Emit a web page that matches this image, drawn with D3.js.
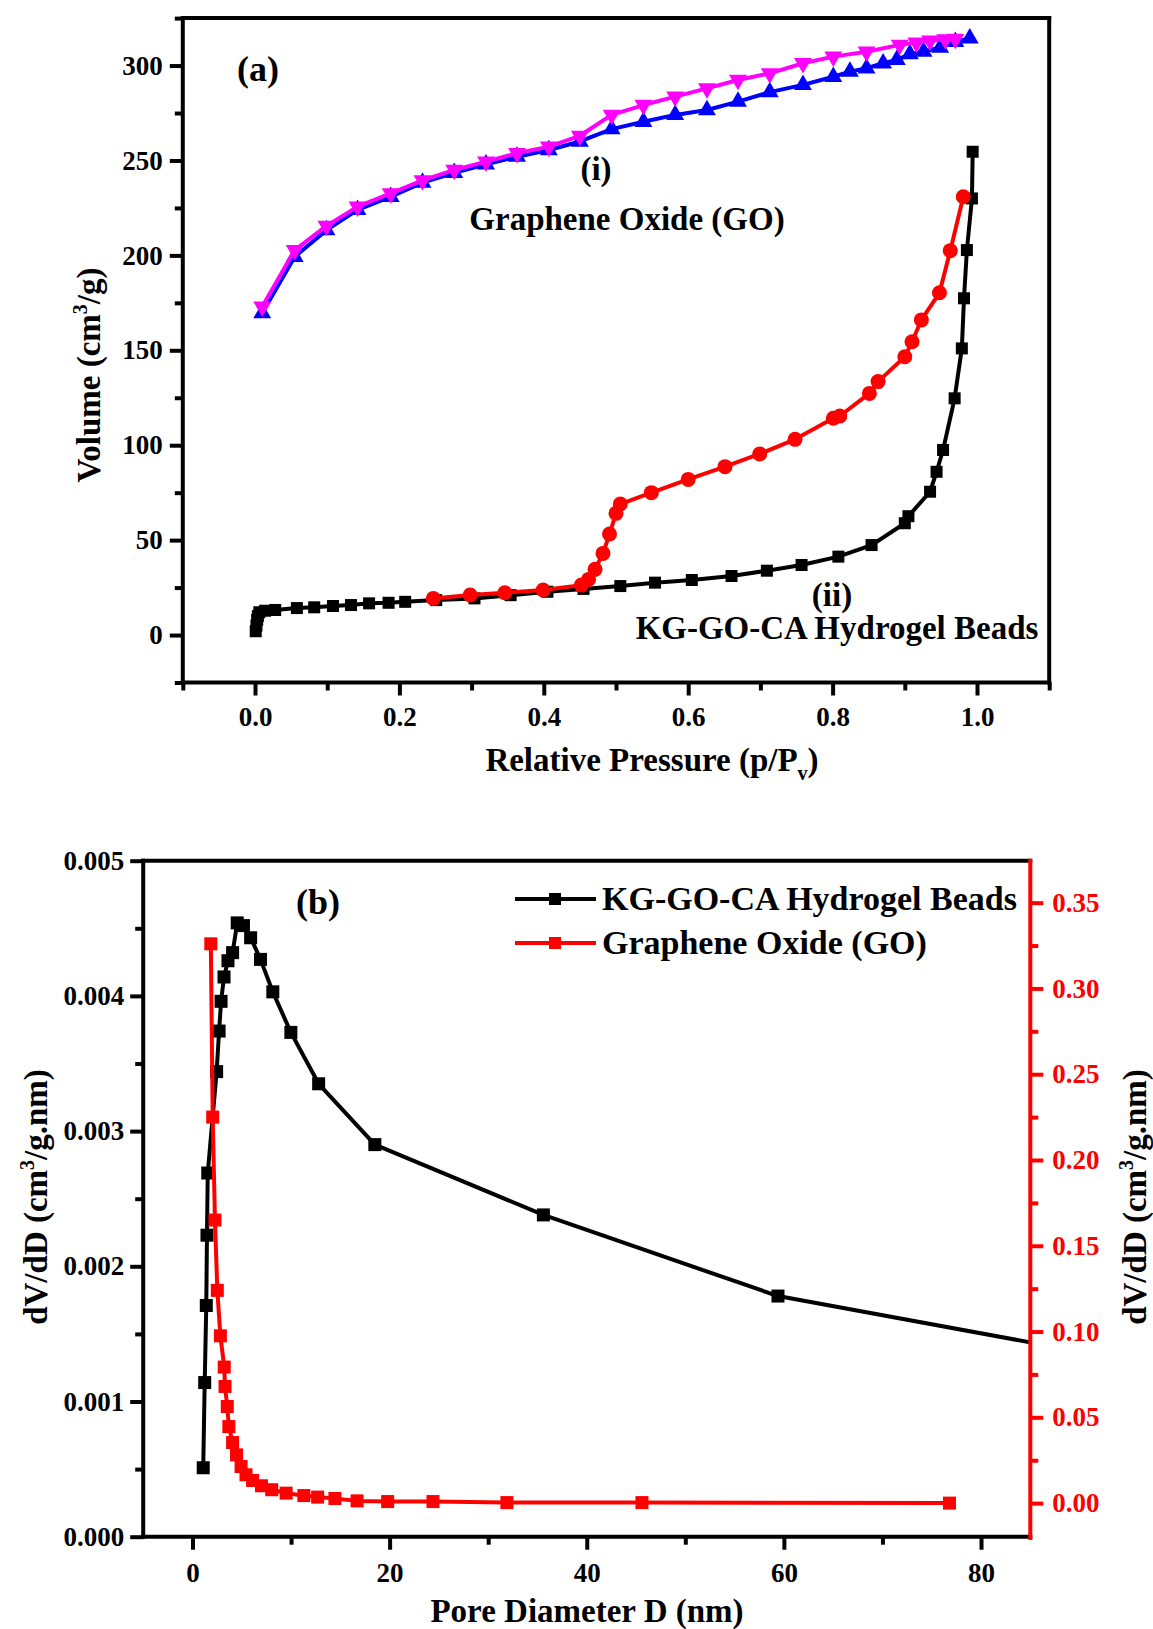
<!DOCTYPE html>
<html>
<head>
<meta charset="utf-8">
<script src="https://cdn.jsdelivr.net/npm/d3@7"></script>
<style>
    body{ margin: 0; background: #fff; }
    svg text{ font-family: 'Liberation Serif', 'Times New Roman', serif; font-weight: bold; }
</style>
</head>
<body>
<svg id="chart" width="1153" height="1629"></svg>
<script>

// (a) Graphene oxide isotherm, adsorption branch
var goAdsP = [0.010, 0.055, 0.099, 0.142, 0.188, 0.232, 0.276, 0.320, 0.363, 0.407, 0.450, 0.494, 0.538, 0.582,
    0.626, 0.669, 0.713, 0.759, 0.801, 0.824, 0.847, 0.870, 0.889, 0.907, 0.926, 0.949, 0.970, 0.990];
var goAdsV = [169.6, 199.3, 213.3, 224.0, 230.9, 238.3, 243.5, 248.0, 252.0, 255.5, 260.0, 266.5, 270.4, 274.0,
    276.6, 281.0, 286.0, 289.8, 294.1, 296.8, 298.6, 301.2, 303.0, 306.0, 307.3, 309.5, 312.5, 314.4];

// (a) Graphene oxide isotherm, desorption branch
var goDesP = [0.010, 0.055, 0.099, 0.142, 0.188, 0.232, 0.276, 0.320, 0.363, 0.407, 0.450, 0.494, 0.538, 0.582,
    0.626, 0.669, 0.713, 0.759, 0.801, 0.847, 0.893, 0.916, 0.935, 0.956, 0.970];
var goDesV = [173.0, 202.8, 215.5, 225.7, 232.7, 239.5, 245.0, 249.4, 253.8, 257.3, 263.0, 274.0, 279.2, 283.6,
    288.0, 292.4, 295.9, 301.2, 304.7, 307.3, 310.9, 312.1, 313.1, 313.8, 314.0];

// (a) KG-GO-CA beads isotherm, adsorption branch
var kgAdsP = [0.001, 0.002, 0.003, 0.004, 0.006, 0.014, 0.028, 0.058, 0.082, 0.108, 0.133, 0.158, 0.185, 0.208,
    0.251, 0.304, 0.354, 0.405, 0.455, 0.506, 0.554, 0.605, 0.660, 0.709, 0.757, 0.808, 0.854,
    0.900, 0.905, 0.935, 0.944, 0.953, 0.969, 0.979, 0.982, 0.986, 0.993, 0.994];
var kgAdsV = [2, 5, 8, 10, 12, 12.8, 13.2, 14.2, 14.6, 15.3, 15.8, 16.7, 17.0, 17.5,
    18.4, 19.3, 21.0, 22.8, 24.3, 25.8, 27.6, 29.0, 31.1, 33.9, 36.9, 41.3, 47.4,
    58.9, 62.6, 75.5, 86.0, 97.5, 124.7, 151.0, 177.4, 202.8, 230.0, 254.6];

// (a) KG-GO-CA beads isotherm, desorption branch
var kgDesP = [0.247, 0.298, 0.346, 0.399, 0.452, 0.462, 0.471, 0.482, 0.491, 0.500, 0.506, 0.549, 0.600, 0.651,
    0.699, 0.748, 0.801, 0.810, 0.851, 0.863, 0.900, 0.910, 0.923, 0.948, 0.963, 0.981];
var kgDesV = [19.3, 21.1, 22.3, 23.7, 26.3, 29.3, 34.6, 43.0, 53.2, 64.1, 69.0, 75.0, 82.0, 88.7,
    95.4, 103.1, 114.2, 115.4, 127.3, 133.5, 146.6, 154.5, 166.0, 180.3, 202.5, 230.9];

// (b) Pore size distribution, KG-GO-CA beads (left axis)
var kgPoreD = [1.09, 1.24, 1.40, 1.47, 1.55, 2.45, 2.70, 2.90, 3.20, 3.60, 4.07, 4.54, 5.17, 5.90, 6.90,
    8.15, 9.98, 12.8, 18.5, 35.6, 59.4, 96];
var kgPoreV = [0.00051, 0.00114, 0.00171, 0.00223, 0.00269, 0.00344, 0.00374, 0.00396, 0.00414, 0.00426,
    0.00432, 0.00454, 0.00452, 0.00443, 0.00427, 0.00403, 0.00373, 0.00335, 0.00290, 0.00238, 0.00178, 0.00129];

// (b) Pore size distribution, graphene oxide (right axis)
var goPoreD = [1.86, 2.05, 2.28, 2.52, 2.83, 3.22, 3.30, 3.53, 3.69, 4.07, 4.47, 4.93, 5.43, 6.10, 7.0,
    8.04, 9.5, 11.3, 12.7, 14.45, 16.7, 19.8, 24.4, 31.9, 45.6, 76.8];
var goPoreV = [0.326, 0.225, 0.165, 0.124, 0.0975, 0.0793, 0.068, 0.0563, 0.0446, 0.0353, 0.0281, 0.0213,
    0.0165, 0.0132, 0.0101, 0.0078, 0.0058, 0.0044, 0.0035, 0.0027, 0.0013, 0.0009, 0.0009, 0.0003, 0.0003, 0.0];

// Tick values
var aTicksX = [0, 0.2, 0.4, 0.6, 0.8, 1.0];
var aMinorX = [-0.1, 0.1, 0.3, 0.5, 0.7, 0.9, 1.1];
var aTicksY = [0, 50, 100, 150, 200, 250, 300];
var aMinorY = [-25, 25, 75, 125, 175, 225, 275, 325];
var bTicksX = [0, 20, 40, 60, 80];
var bMinorX = [10, 30, 50, 70];
var bTicksYL = [0, 0.001, 0.002, 0.003, 0.004, 0.005];
var bMinorYL = [0.0005, 0.0015, 0.0025, 0.0035, 0.0045];
var bTicksYR = [0, 0.05, 0.10, 0.15, 0.20, 0.25, 0.30, 0.35];
var bMinorYR = [0.025, 0.075, 0.125, 0.175, 0.225, 0.275, 0.325];

var svg = d3.select('#chart');
var RED = '#ff0000', BLUE = '#0000ff', MAGENTA = '#ff00ff';

function zip(xs, ys){
    return xs.map(function(x, i){ return {x: x, y: ys[i]}; });
}

// Draw an axis (major + minor ticks), no domain line
function drawAxis(axisFn, scale, ticks, minor, fmt, translate, pad, color){
    var g = svg.append('g').attr('transform', translate);
    g.append('g')
        .call(axisFn(scale).tickValues(minor).tickSize(8).tickFormat(''))
        .call(function(s){ s.select('.domain').remove(); });
    g.append('g')
        .call(axisFn(scale).tickValues(ticks).tickSize(13).tickPadding(pad).tickFormat(fmt))
        .call(function(s){ s.select('.domain').remove(); });
    g.selectAll('line').attr('stroke', color).attr('stroke-width', 4);
    g.selectAll('text')
        .attr('fill', color)
        .style('font-size', '27px')
        .style('font-family', "'Liberation Serif', 'Times New Roman', serif")
        .style('font-weight', 'bold');
    return g;
}

function frameLine(x1, y1, x2, y2, color){
    svg.append('line')
        .attr('x1', x1).attr('y1', y1).attr('x2', x2).attr('y2', y2)
        .attr('stroke', color).attr('stroke-width', 4).attr('stroke-linecap', 'square');
}

// Draw one data series: line + markers
function drawSeries(g, data, x, y, color, shape, size){
    var line = d3.line()
        .x(function(d){ return x(d.x); })
        .y(function(d){ return y(d.y); });
    g.append('path')
        .datum(data)
        .attr('fill', 'none')
        .attr('stroke', color)
        .attr('stroke-width', 4)
        .attr('stroke-linejoin', 'round')
        .attr('d', line);
    var m = g.append('g').attr('fill', color);
    if(shape == 'square'){
        m.selectAll('rect').data(data).enter().append('rect')
            .attr('x', function(d){ return x(d.x) - size/2; })
            .attr('y', function(d){ return y(d.y) - size/2; })
            .attr('width', size).attr('height', size);
    }
    else if(shape == 'circle'){
        m.selectAll('circle').data(data).enter().append('circle')
            .attr('cx', function(d){ return x(d.x); })
            .attr('cy', function(d){ return y(d.y); })
            .attr('r', size/2);
    }
    else{
        var sym = d3.symbol().type(d3.symbolTriangle).size(size*size*0.48);
        var rot = (shape == 'down') ? 180 : 0;
        m.selectAll('path').data(data).enter().append('path')
            .attr('d', sym)
            .attr('transform', function(d){
                return 'translate(' + x(d.x) + ',' + y(d.y) + ') rotate(' + rot + ')';
            });
    }
}

// ---------------- Panel (a) ----------------
var ax = d3.scaleLinear().domain([-0.1, 1.1]).range([182.8, 1049.2]);
var ay = d3.scaleLinear().domain([-25, 325]).range([682.5, 18.1]);

svg.append('clipPath').attr('id', 'clipA')
    .append('rect').attr('x', 182.8).attr('y', 18.1).attr('width', 1049.2 - 182.8).attr('height', 682.5 - 18.1);
var ga = svg.append('g').attr('clip-path', 'url(#clipA)');

drawSeries(ga, zip(goAdsP, goAdsV), ax, ay, BLUE, 'up', 17);
drawSeries(ga, zip(goDesP, goDesV), ax, ay, MAGENTA, 'down', 17);
drawSeries(ga, zip(kgAdsP, kgAdsV), ax, ay, '#000', 'square', 12);
drawSeries(ga, zip(kgDesP, kgDesV), ax, ay, RED, 'circle', 15);

drawAxis(d3.axisBottom, ax, aTicksX, aMinorX, d3.format('.1f'), 'translate(0,682.5)', 11, '#000');
drawAxis(d3.axisLeft, ay, aTicksY, aMinorY, d3.format('d'), 'translate(182.8,0)', 7, '#000');
frameLine(182.8, 18.1, 1049.2, 18.1, '#000');
frameLine(1049.2, 18.1, 1049.2, 682.5, '#000');
frameLine(182.8, 682.5, 1049.2, 682.5, '#000');
frameLine(182.8, 18.1, 182.8, 682.5, '#000');

// Axis titles (a)
var tx = svg.append('text').attr('x', 652).attr('y', 771).attr('text-anchor', 'middle').style('font-size', '33px');
tx.append('tspan').text('Relative Pressure (p/P');
tx.append('tspan').attr('dy', 9).style('font-size', '20px').text('v');
tx.append('tspan').attr('dy', -9).text(')');

var ty = svg.append('text').attr('transform', 'translate(100,375) rotate(-90)').attr('text-anchor', 'middle').style('font-size', '33px');
ty.append('tspan').text('Volume (cm');
ty.append('tspan').attr('dy', -13).style('font-size', '20px').text('3');
ty.append('tspan').attr('dy', 13).text('/g)');

// Annotations (a)
svg.append('text').attr('x', 237).attr('y', 81).style('font-size', '36px').text('(a)');
svg.append('text').attr('x', 596).attr('y', 180).attr('text-anchor', 'middle').style('font-size', '33px').text('(i)');
svg.append('text').attr('x', 627).attr('y', 230).attr('text-anchor', 'middle').style('font-size', '33px').text('Graphene Oxide (GO)');
svg.append('text').attr('x', 832).attr('y', 606).attr('text-anchor', 'middle').style('font-size', '33px').text('(ii)');
svg.append('text').attr('x', 837).attr('y', 639).attr('text-anchor', 'middle').style('font-size', '33px').text('KG-GO-CA Hydrogel Beads');

// ---------------- Panel (b) ----------------
var bx = d3.scaleLinear().domain([-5, 85]).range([143.2, 1030.3]);
var byL = d3.scaleLinear().domain([0, 0.005]).range([1536.7, 860.7]);
var byR = d3.scaleLinear().domain([-0.01958, 0.37445]).range([1536.7, 860.7]);

svg.append('clipPath').attr('id', 'clipB')
    .append('rect').attr('x', 143.2).attr('y', 860.7).attr('width', 1030.3 - 143.2).attr('height', 1536.7 - 860.7);
var gb = svg.append('g').attr('clip-path', 'url(#clipB)');

drawSeries(gb, zip(kgPoreD, kgPoreV), bx, byL, '#000', 'square', 13);
drawSeries(gb, zip(goPoreD, goPoreV), bx, byR, RED, 'square', 13);

drawAxis(d3.axisBottom, bx, bTicksX, bMinorX, d3.format('d'), 'translate(0,1536.7)', 13, '#000');
drawAxis(d3.axisLeft, byL, bTicksYL, bMinorYL, d3.format('.3f'), 'translate(143.2,0)', 6, '#000');
drawAxis(d3.axisRight, byR, bTicksYR, bMinorYR, d3.format('.2f'), 'translate(1030.3,0)', 9, RED);
frameLine(143.2, 860.7, 1030.3, 860.7, '#000');
frameLine(143.2, 1536.7, 1030.3, 1536.7, '#000');
frameLine(143.2, 860.7, 143.2, 1536.7, '#000');
frameLine(1030.3, 860.7, 1030.3, 1538, RED);

// Axis titles (b)
svg.append('text').attr('x', 587).attr('y', 1622).attr('text-anchor', 'middle').style('font-size', '33px').text('Pore Diameter D (nm)');

[47, 1146].forEach(function(xp){
    var t = svg.append('text').attr('transform', 'translate(' + xp + ',1197) rotate(-90)')
        .attr('text-anchor', 'middle').style('font-size', '33px');
    t.append('tspan').text('dV/dD (cm');
    t.append('tspan').attr('dy', -13).style('font-size', '20px').text('3');
    t.append('tspan').attr('dy', 13).text('/g.nm)');
});

// Annotation (b)
svg.append('text').attr('x', 296).attr('y', 914).style('font-size', '36px').text('(b)');

// Legend (b)
var legendItems = [
    {label: 'KG-GO-CA Hydrogel Beads', color: '#000', y: 899},
    {label: 'Graphene Oxide (GO)', color: RED, y: 943}
];
legendItems.forEach(function(d){
    svg.append('line').attr('x1', 515).attr('x2', 596).attr('y1', d.y).attr('y2', d.y)
        .attr('stroke', d.color).attr('stroke-width', 4);
    svg.append('rect').attr('x', 549).attr('y', d.y - 6).attr('width', 12).attr('height', 12).attr('fill', d.color);
    svg.append('text').attr('x', 602).attr('y', d.y + 11).style('font-size', '34px').text(d.label);
});

</script>
</body>
</html>
